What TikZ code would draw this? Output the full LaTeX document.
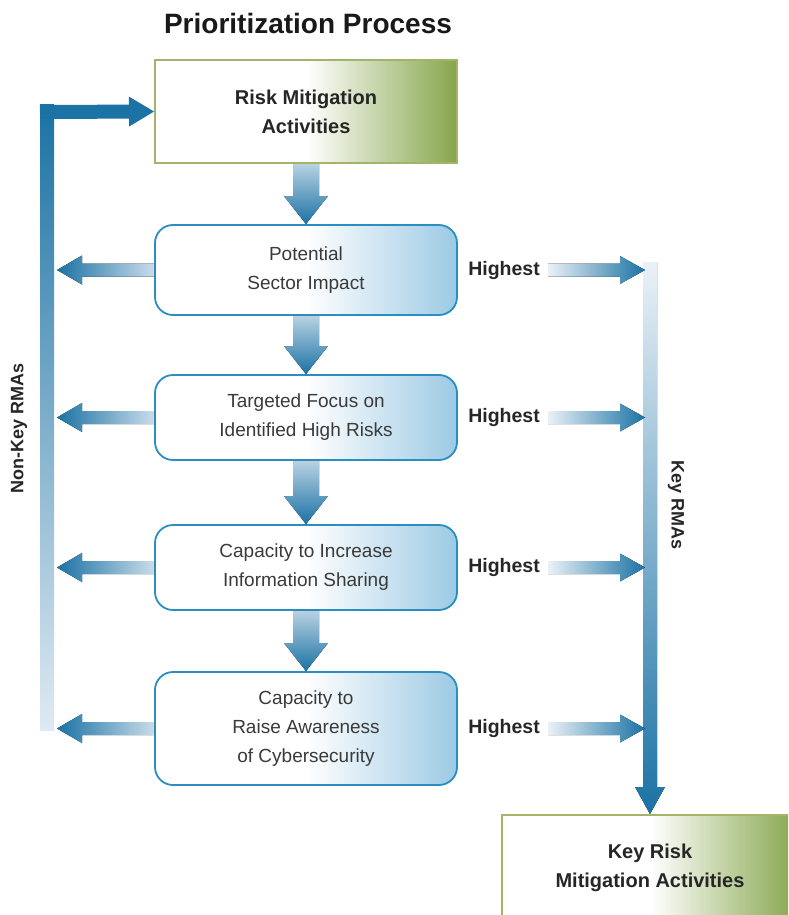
\documentclass[tikz,border=0pt]{standalone}
\usepackage{fontspec}
\setmainfont{Liberation Sans}
\usepackage{tikz}
\usetikzlibrary{calc}
\usetikzlibrary{positioning}

\definecolor{arrdark}{HTML}{1B72A4}
\definecolor{arrlight}{HTML}{C9DCEA}
\definecolor{boxline}{HTML}{2A8EC2}
\definecolor{boxedge}{HTML}{9CCAE4}
\definecolor{grnline}{HTML}{A3B36A}
\definecolor{grnedge}{HTML}{86A64C}
\definecolor{txtgray}{HTML}{3A3A3A}

\pgfdeclarehorizontalshading{blueside}{100bp}{color(0bp)=(white); color(50bp)=(white); color(75bp)=(boxedge); color(100bp)=(boxedge)}
\pgfdeclarehorizontalshading{greenside}{100bp}{color(0bp)=(white); color(50bp)=(white); color(75bp)=(grnedge); color(100bp)=(grnedge)}

\tikzset{
  stepbox/.style={draw=boxline, line width=1.8pt, rounded corners=18pt, shade, shading=blueside,
    minimum width=302pt, align=center, text=txtgray, font=\fontsize{19}{29}\selectfont},
  rmabox/.style={draw=grnline, line width=2pt, shade, shading=greenside, align=center,
    text=black!85, font=\fontsize{20}{29}\selectfont\bfseries},
  hilabel/.style={text=black!85, font=\fontsize{19.5}{23}\selectfont\bfseries},
  sidelabel/.style={text=black!85, font=\fontsize{18}{22}\selectfont\bfseries},
  downshade/.style={top color=arrlight!90!arrdark, bottom color=arrdark},
  leftshade/.style={left color=arrdark, right color=arrlight},
  rightshade/.style={left color=arrlight!40, right color=arrdark}
}

% fat arrow: style, from, to, half shaft, half head, head length
\newcommand{\fatarrow}[6]{%
  \coordinate (neck) at ($(#3)!#6!(#2)$);
  \fill[#1] ($(#2)!#4!90:(#3)$) -- ($(neck)!#4!90:(#3)$) -- ($(neck)!#5!90:(#3)$) -- (#3)
    -- ($(neck)!#5!-90:(#3)$) -- ($(neck)!#4!-90:(#3)$) -- ($(#2)!#4!-90:(#3)$) -- cycle;
}

\begin{document}
\begin{tikzpicture}[x=1pt, y=-1pt]
\useasboundingbox (0,0) rectangle (788,915);
\clip (0,0) rectangle (788,915);

\node[text=black!90, font=\fontsize{28}{34}\selectfont\bfseries] (title) at (308,23) {Prioritization Process};

\node[rmabox, minimum width=302pt, minimum height=103pt] (rma) at (306,111.5) {Risk Mitigation\\Activities};
\node[stepbox, minimum height=90pt] (impact) at (306,270) {Potential\\Sector Impact};
\node[stepbox, minimum height=85pt] (focus) at (306,417.5) {Targeted Focus on\\Identified High Risks};
\node[stepbox, minimum height=85pt] (sharing) at (306,567.5) {Capacity to Increase\\Information Sharing};
\node[stepbox, minimum height=113pt] (aware) at (306,728.5) {Capacity to\\Raise Awareness\\of Cybersecurity};
\node[rmabox, minimum width=296pt, minimum height=106pt] (keyrma) at (650,868) {Key Risk\\Mitigation Activities};

\fatarrow{downshade}{rma.south}{impact.north}{13pt}{22pt}{28pt}
\fatarrow{downshade}{impact.south}{focus.north}{13pt}{22pt}{28pt}
\fatarrow{downshade}{focus.south}{sharing.north}{13pt}{22pt}{28pt}
\fatarrow{downshade}{sharing.south}{aware.north}{13pt}{22pt}{28pt}

% non-key side
\coordinate (nktip) at (57,0);
\coordinate (nkbot) at (47,730);
\coordinate (nktop) at (47,112);
\coordinate (nkcorner) at (40,112);
\fill[top color=arrdark, bottom color=arrlight!60] ($(nkbot)+(-7,0)$) rectangle ($(nktop)+(7,-7)$);
\fill[arrdark] ($(nktop)+(-7,-7)$) rectangle ($(nktop)+(7,7)$);
\fatarrow{arrdark}{nkcorner}{rma.west}{7pt}{15pt}{25pt}
\node[sidelabel, rotate=90] (nonkey) at (19,428) {Non-Key RMAs};

% key side
\coordinate (kstart) at (548,0);
\coordinate (ktip) at (645,0);
\coordinate (ktop) at (650,262);
\fatarrow{top color=arrlight!40, bottom color=arrdark}{ktop}{keyrma.north}{7pt}{15pt}{27pt}
\node[sidelabel, rotate=-90] (keylbl) at (676,505) {Key RMAs};

\foreach \b/\i in {impact/1, focus/2, sharing/3, aware/4}{
  \coordinate (nk\i) at (\b.west -| nktip);
  \fatarrow{leftshade}{\b.west}{nk\i}{6.5pt}{14.5pt}{25pt}
  \node[hilabel] (hi\i) at (\b.west -| 504,0) {Highest};
  \coordinate (ks\i) at (\b.west -| kstart);
  \coordinate (kt\i) at (\b.west -| ktip);
  \fatarrow{rightshade}{ks\i}{kt\i}{6.5pt}{14pt}{25pt}
}
\end{tikzpicture}
\end{document}
